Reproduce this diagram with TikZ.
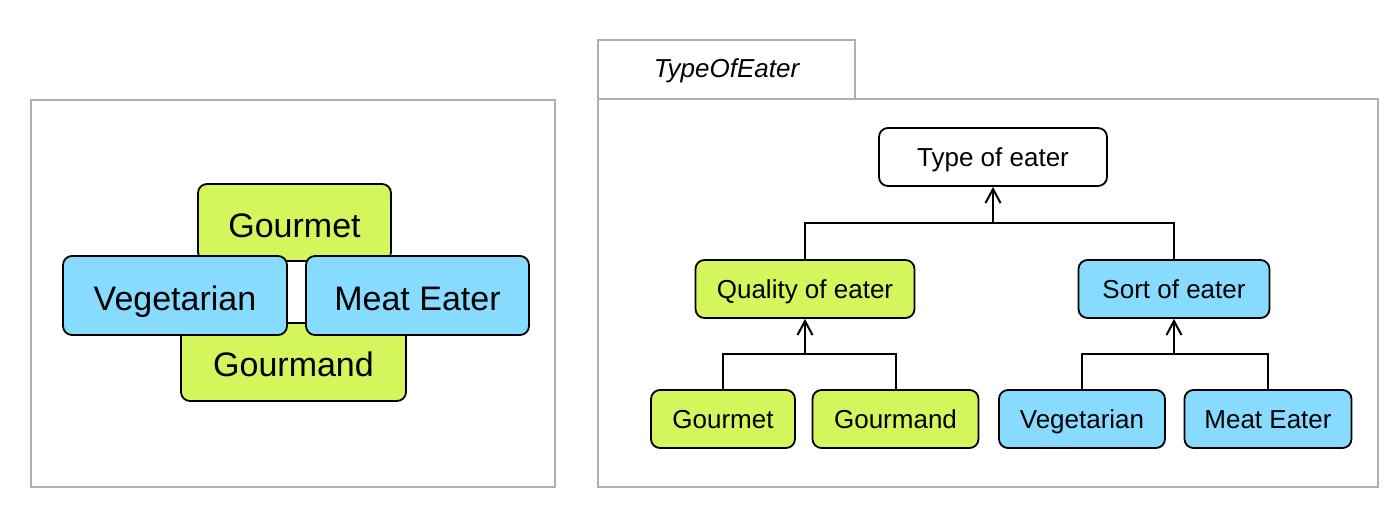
\documentclass[tikz,border=0pt]{standalone}
\usepackage{fontspec}
\setmainfont{Liberation Sans}
\usetikzlibrary{arrows.meta}
\definecolor{eatergreen}{RGB}{212,246,92}
\definecolor{eaterblue}{RGB}{135,219,255}
\definecolor{framegray}{RGB}{175,175,175}

\begin{document}
\begin{tikzpicture}[x=1pt,y=-1pt,
  frame/.style={draw=framegray,line width=2pt},
  box/.style={draw=black,line width=1.8pt,rounded corners=9pt,inner sep=0pt,
    minimum height=58pt,text height=20pt,text depth=0.5pt,
    font=\fontsize{26}{30}\selectfont},
  bigbox/.style={box,text height=29pt,text depth=0pt,font=\fontsize{34}{40}\selectfont},
  link/.style={draw=black,line width=2pt},
  up/.style={link,-{Straight Barb[length=14pt,width=15pt,line width=2pt]}}]
\useasboundingbox (0,0) rectangle (1393,525);
\fill[white] (0,0) rectangle (1393,525);

% left figure
\draw[frame] (31,100) rectangle (555,487);
\node[bigbox,fill=eatergreen,minimum width=193pt,minimum height=77pt] (lgourmet) at (294.5,222.5) {Gourmet};
\node[bigbox,fill=eatergreen,minimum width=225pt,minimum height=78pt] (lgourmand) at (293.5,362) {Gourmand};
\node[bigbox,fill=eaterblue,minimum width=224pt,minimum height=79pt] (lveg) at (175,295.5) {Vegetarian};
\node[bigbox,fill=eaterblue,minimum width=223pt,minimum height=79pt] (lmeat) at (417.5,295.5) {Meat Eater};

% right figure
\draw[frame] (598,99) rectangle (1378,487);
\draw[frame] (598,40) rectangle (855,99);
\node[font=\fontsize{26}{30}\selectfont\itshape] (tab) at (726.5,71) {TypeOfEater};

\node[box,fill=white,minimum width=228pt] (type) at (993,157) {Type of eater};
\node[box,fill=eatergreen,minimum width=219pt] (quality) at (805,289) {Quality of eater};
\node[box,fill=eaterblue,minimum width=191pt] (sort) at (1174,289) {Sort of eater};
\node[box,fill=eatergreen,minimum width=144pt] (gourmet) at (723,419) {Gourmet};
\node[box,fill=eatergreen,minimum width=166pt] (gourmand) at (895.5,419) {Gourmand};
\node[box,fill=eaterblue,minimum width=166pt] (veg) at (1082,419) {Vegetarian};
\node[box,fill=eaterblue,minimum width=167pt] (meat) at (1268,419) {Meat Eater};

\path (type.south) ++(0,36) coordinate (tj);
\path (quality.south) ++(0,35) coordinate (qj);
\path (sort.south) ++(0,35) coordinate (sj);

\draw[link] (quality.north) |- (tj) -| (sort.north);
\draw[up] (tj) -- (type.south);
\draw[link] (gourmet.north) |- (qj) -| (gourmand.north);
\draw[up] (qj) -- (quality.south);
\draw[link] (veg.north) |- (sj) -| (meat.north);
\draw[up] (sj) -- (sort.south);
\end{tikzpicture}
\end{document}
